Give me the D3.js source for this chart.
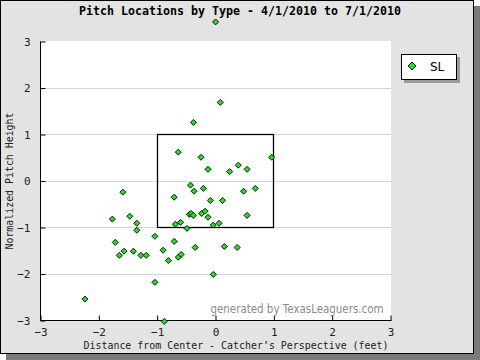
<!DOCTYPE html>
<html>
<head>
<meta charset="utf-8">
<script src="https://cdn.jsdelivr.net/npm/d3@7"></script>
<style>
  html, body { margin: 0; padding: 0; background: #fff; }
  svg { display: block; }
</style>
</head>
<body>
<svg id="chart" width="480" height="360"></svg>
<script>
// ---- data ----
const titleText = "Pitch Locations by Type - 4/1/2010 to 7/1/2010";
const xTicks = [-3, -2, -1, 0, 1, 2, 3];
const yTicks = [-3, -2, -1, 0, 1, 2, 3];
const pitchType = ["SL"];
const slX = [0.01, 0.09, -0.37, -0.63, -0.24, -0.12, 0.25, 0.40, 0.55, 0.97,
  -0.42, -0.36, -0.20, -0.70, 0.49, 0.69, -0.08, 0.13, -0.44, -0.41, -0.37,
  -0.23, -0.17, -0.12, 0.55, -0.68, -0.59, -0.48, -0.03, 0.07, -1.03, -0.70,
  -0.89, -0.34, 0.16, 0.38, -0.80, -0.63, -0.58, -0.03, -1.58, -1.76, -1.46,
  -1.34, -1.34, -1.71, -1.56, -1.40, -1.64, -1.27, -1.18, -1.03, -2.23, -0.87];
const slY = [3.41, 1.68, 1.25, 0.61, 0.50, 0.24, 0.19, 0.33, 0.24, 0.50,
  -0.10, -0.23, -0.17, -0.36, -0.23, -0.17, -0.43, -0.43, -0.73, -0.71, -0.75,
  -0.71, -0.66, -0.79, -0.75, -0.94, -0.90, -1.03, -0.96, -0.92, -1.20, -1.31,
  -1.50, -1.44, -1.42, -1.44, -1.72, -1.65, -1.59, -2.02, -0.25, -0.83, -0.77,
  -0.92, -1.07, -1.33, -1.52, -1.52, -1.61, -1.61, -1.61, -2.19, -2.55, -3.03];
const zoneX = [-1, 1];
const zoneY = [-1, 1];

// ---- drawing ----
const svg = d3.select("#chart");
const plot = {left: 40, right: 390, top: 41, bottom: 320};

const x = d3.scaleLinear().domain([-3, 3]).range([plot.left, plot.right]);
const y = d3.scaleLinear().domain([-3, 3]).range([plot.bottom, plot.top]);

// outer frame shadow + frame
svg.append("rect").attr("x", 6).attr("y", 6).attr("width", 474).attr("height", 354).attr("fill", "#7a7a7a");
svg.append("rect").attr("x", 0.5).attr("y", 0.5).attr("width", 473).attr("height", 353)
  .attr("fill", "#e3e3e3").attr("stroke", "#000").attr("stroke-width", 1);

// plot background
svg.append("rect").attr("x", plot.left).attr("y", plot.top)
  .attr("width", plot.right - plot.left + 1).attr("height", plot.bottom - plot.top)
  .attr("fill", "#ffffff");

// gridlines
svg.append("g").selectAll("line").data(yTicks.filter(d => d > -3 && d < 3)).join("line")
  .attr("x1", plot.left).attr("x2", plot.right + 1)
  .attr("y1", d => Math.round(y(d)) + 0.5).attr("y2", d => Math.round(y(d)) + 0.5)
  .attr("stroke", "#d4d4d4").attr("stroke-width", 1);

// axes
const xAxis = d3.axisBottom(x).tickValues(xTicks).tickSize(-5).tickPadding(10)
  .tickFormat(d => d < 0 ? "\u2212" + Math.abs(d) : d);
const gx = svg.append("g").attr("transform", `translate(0.5,${plot.bottom + 0.5})`).call(xAxis);
gx.select(".domain").attr("d", `M${plot.left},0H${plot.right + 1}`).attr("stroke", "#000");
gx.selectAll(".tick line").attr("stroke", "#000");
gx.selectAll(".tick text").attr("font-family", "'DejaVu Sans Mono', monospace")
  .attr("font-size", "11px").attr("fill", "#222").attr("dy", "0.5em");

const yAxis = d3.axisLeft(y).tickValues(yTicks).tickSize(-5).tickPadding(10)
  .tickFormat(d => d < 0 ? "\u2212" + Math.abs(d) : d);
const gy = svg.append("g").attr("transform", `translate(${plot.left + 0.5},0.5)`).call(yAxis);
gy.select(".domain").attr("d", `M0,${plot.top}V${plot.bottom}`).attr("stroke", "#000");
gy.selectAll(".tick line").attr("stroke", "#000");
gy.selectAll(".tick text").attr("font-family", "'DejaVu Sans Mono', monospace")
  .attr("font-size", "11px").attr("fill", "#222");

// strike zone
svg.append("rect")
  .attr("x", Math.round(x(zoneX[0])) + 0.5)
  .attr("y", Math.round(y(zoneY[1])) + 0.5)
  .attr("width", Math.round(x(zoneX[1])) - Math.round(x(zoneX[0])))
  .attr("height", Math.round(y(zoneY[0])) - Math.round(y(zoneY[1])))
  .attr("fill", "none").attr("stroke", "#000").attr("stroke-width", 1.3);

// watermark
svg.append("text").attr("x", 297).attr("y", 313).attr("text-anchor", "middle")
  .attr("font-family", "'DejaVu Sans', sans-serif").attr("font-size", "11.5px")
  .attr("fill", "#8a8a8a").attr("textLength", 173).attr("lengthAdjust", "spacingAndGlyphs")
  .text("generated by TexasLeaguers.com");

// points
const pts = slX.map((v, i) => ({x: v, y: slY[i]}));
const diamond = s => `M0,${-s}L${s},0L0,${s}L${-s},0Z`;
svg.append("g").selectAll("path").data(pts).join("path")
  .attr("transform", d => `translate(${x(d.x)},${y(d.y)})`)
  .attr("d", diamond(3.0))
  .attr("fill", "#22e022").attr("stroke", "#000").attr("stroke-width", 0.9);

// title
svg.append("text").attr("x", 240).attr("y", 15).attr("text-anchor", "middle")
  .attr("font-family", "'DejaVu Sans Mono', monospace").attr("font-weight", "bold")
  .attr("font-size", "11.5px").attr("fill", "#000")
  .attr("textLength", 322).attr("lengthAdjust", "spacingAndGlyphs")
  .text(titleText);

// axis titles
svg.append("text").attr("x", 236).attr("y", 349).attr("text-anchor", "middle")
  .attr("font-family", "'DejaVu Sans Mono', monospace").attr("font-size", "10px").attr("fill", "#222")
  .attr("textLength", 305).attr("lengthAdjust", "spacingAndGlyphs")
  .text("Distance from Center - Catcher\u2019s Perspective (feet)");
svg.append("text").attr("transform", "translate(13,181) rotate(-90)").attr("text-anchor", "middle")
  .attr("font-family", "'DejaVu Sans Mono', monospace").attr("font-size", "10px").attr("fill", "#222")
  .attr("textLength", 137).attr("lengthAdjust", "spacingAndGlyphs")
  .text("Normalized Pitch Height");

// legend
const lg = svg.append("g");
lg.append("rect").attr("x", 404).attr("y", 57).attr("width", 56).attr("height", 26).attr("fill", "#9a9a9a");
lg.append("rect").attr("x", 401.5).attr("y", 54.5).attr("width", 55).attr("height", 25)
  .attr("fill", "#fff").attr("stroke", "#000");
lg.selectAll("path").data(pitchType).join("path")
  .attr("transform", "translate(412,66)").attr("d", diamond(4))
  .attr("fill", "#22e022").attr("stroke", "#000").attr("stroke-width", 1);
lg.selectAll("text").data(pitchType).join("text")
  .attr("x", 430).attr("y", 71).attr("font-family", "'DejaVu Sans', sans-serif")
  .attr("font-size", "12px").attr("fill", "#000").text(d => d);
</script>
</body>
</html>
